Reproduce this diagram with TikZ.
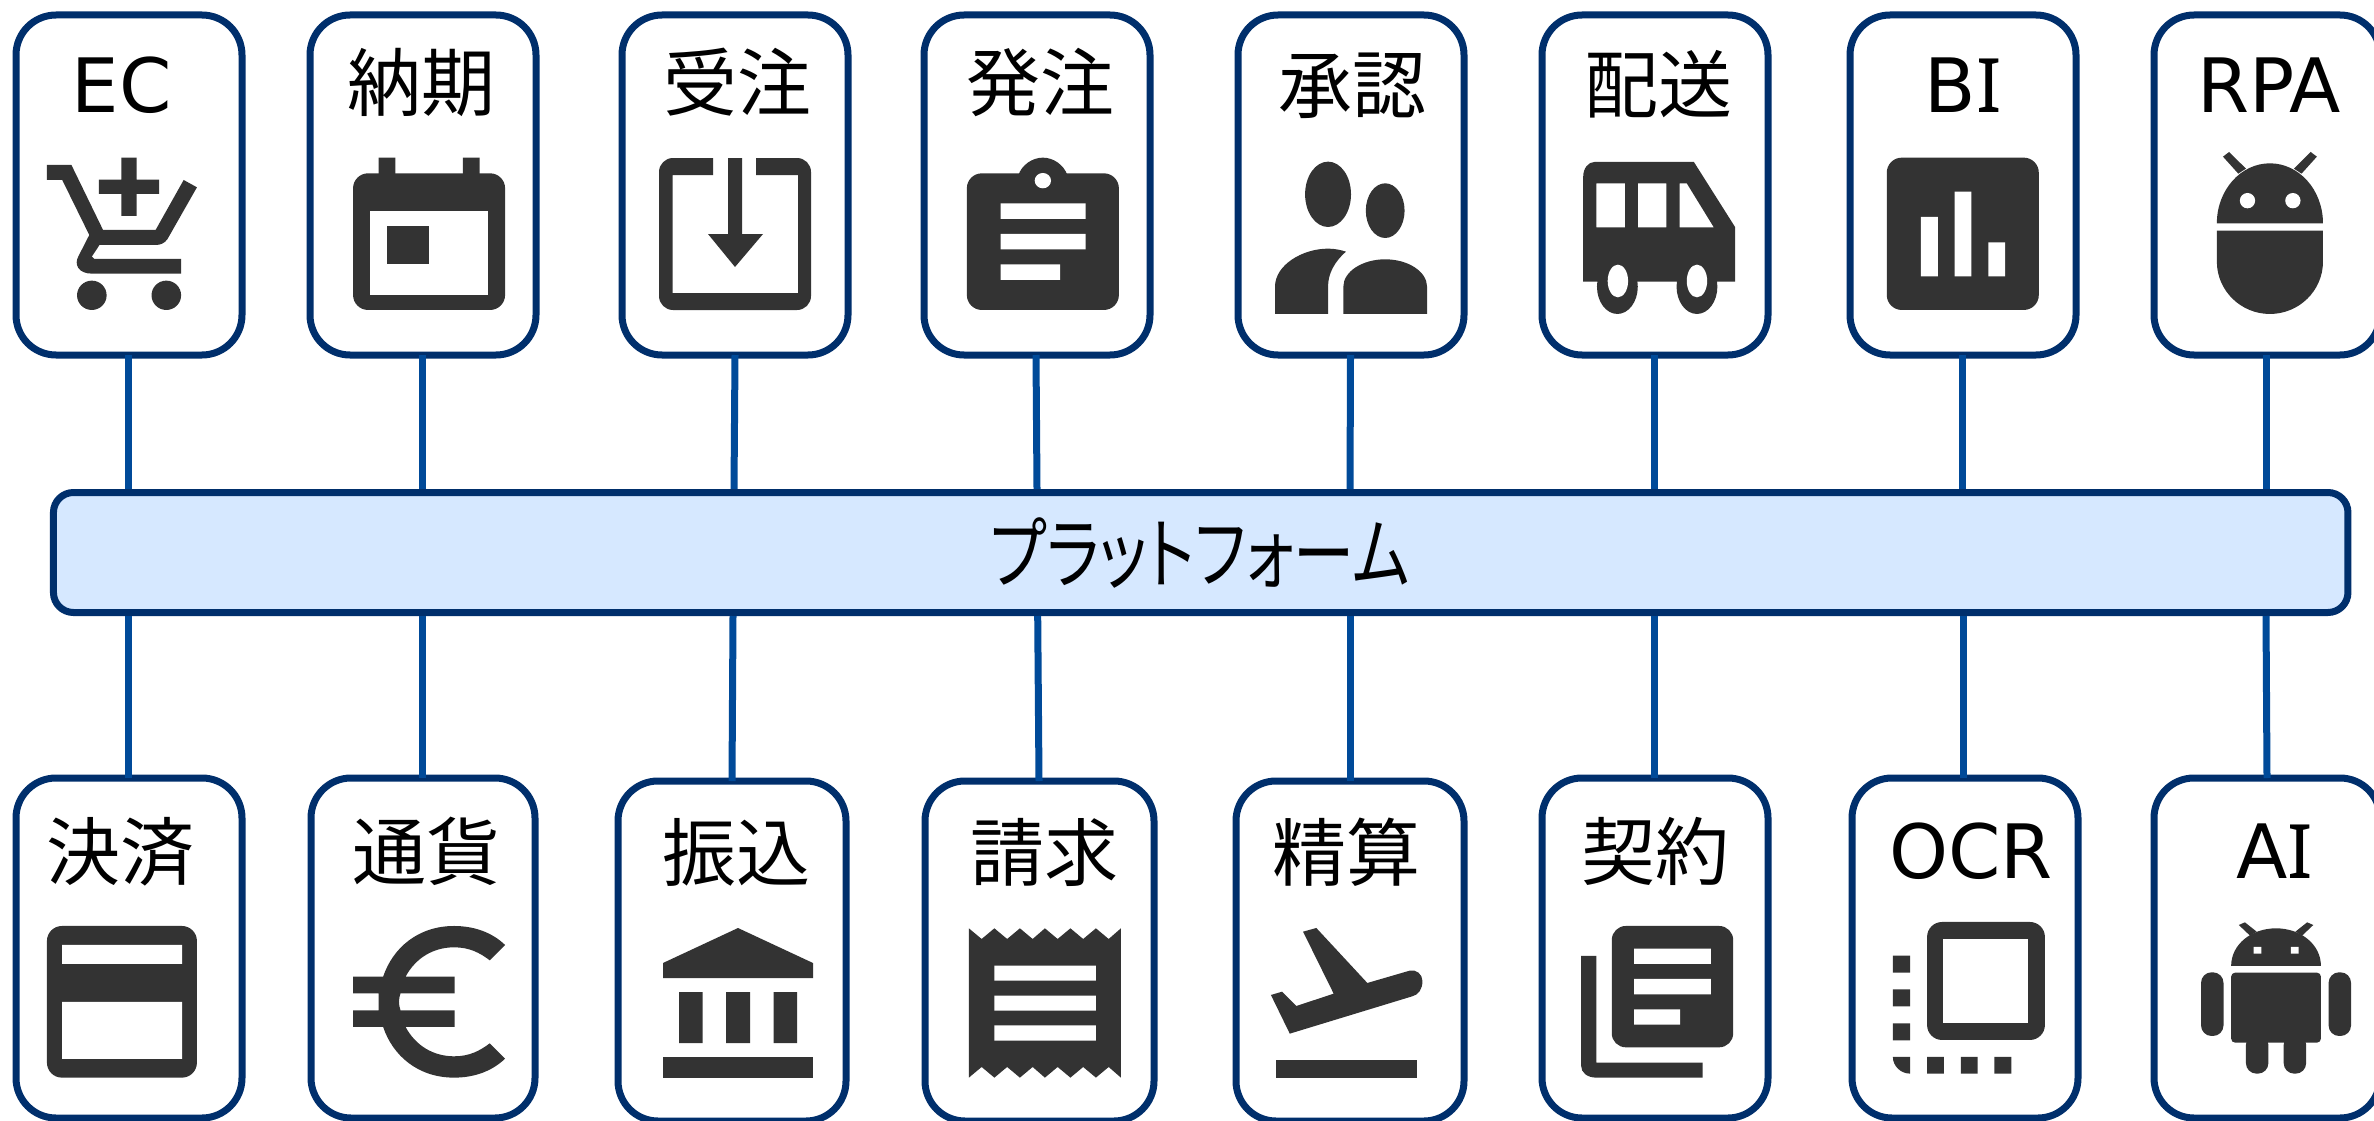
\documentclass[tikz,border=0pt]{standalone}
\usepackage{fontspec}
\usepackage{graphicx}
\setmainfont{DejaVu Sans}
\newfontfamily\cjk[RawFeature=+palt]{Noto Sans CJK JP}
\newfontfamily\cjkfull{Noto Sans CJK JP}
\newfontfamily\serifI{Noto Sans}
\definecolor{edgeblue}{HTML}{002F6C}
\definecolor{linkblue}{HTML}{004A99}
\definecolor{paleblue}{HTML}{D6E8FF}
\definecolor{icon}{HTML}{333333}
\tikzset{
  cardbox/.style={draw=edgeblue,fill=white,line width=7pt,rounded corners=40pt,inner sep=0pt,outer sep=0pt,minimum height=340pt},
  platbox/.style={draw=edgeblue,fill=paleblue,line width=7pt,rounded corners=20pt,inner sep=0pt,minimum width=2294.5pt,minimum height=120pt},
  conn/.style={draw=linkblue,line width=7pt},
  cjklab/.style={anchor=base,inner sep=0pt,font=\cjkfull\fontsize{74}{74}\selectfont},
  latlab/.style={anchor=base,inner sep=0pt,font=\fontsize{75}{75}\selectfont},
  ic/.style={fill=icon,even odd rule},
  hole/.style={fill=white},
  Za/.style={x=0.5102pt,y=-0.3333pt},
  Zb/.style={x=0.5102pt,y=-0.3333pt,shift={(800pt,0pt)}},
  Zc/.style={x=0.5102pt,y=-0.3333pt,shift={(1574pt,0pt)}},
  Zd/.style={x=0.5102pt,y=-0.3333pt,shift={(0pt,-741pt)}},
  Ze/.style={x=0.5102pt,y=-0.3333pt,shift={(800pt,-741pt)}},
  Zf/.style={x=0.5102pt,y=-0.3333pt,shift={(1574pt,-741pt)}},
}
\newcommand{\ibar}{{\serifI I}}
\begin{document}
\begin{tikzpicture}[x=1pt,y=-1pt]
\clip (0,0) rectangle (2374,1121);
\useasboundingbox (0,0) rectangle (2374,1121);
\fill[white] (0,0) rectangle (2374,1121);
% boxes, top row
\node[cardbox,minimum width=226pt] (t1) at (129,185) {};
\node[cardbox,minimum width=226pt] (t2) at (423,185) {};
\node[cardbox,minimum width=226pt] (t3) at (735,185) {};
\node[cardbox,minimum width=226pt] (t4) at (1037,185) {};
\node[cardbox,minimum width=226pt] (t5) at (1351,185) {};
\node[cardbox,minimum width=226pt] (t6) at (1655,185) {};
\node[cardbox,minimum width=226pt] (t7) at (1963,185) {};
\node[cardbox,minimum width=226pt] (t8) at (2267,185) {};
% boxes, bottom row
\node[cardbox,minimum width=226pt] (b1) at (129,948) {};
\node[cardbox,minimum width=224pt] (b2) at (423,948) {};
\node[cardbox,minimum width=228pt] (b3) at (732,951) {};
\node[cardbox,minimum width=229pt] (b4) at (1039.5,951) {};
\node[cardbox,minimum width=228pt] (b5) at (1350,951) {};
\node[cardbox,minimum width=226pt] (b6) at (1655,948) {};
\node[cardbox,minimum width=226pt] (b7) at (1965,948) {};
\node[cardbox,minimum width=226pt] (b8) at (2267,948) {};
% platform
\node[platbox] (plat) at (1200.7,552.5) {};
\node[anchor=base,inner sep=0pt,font=\cjk\fontsize{78}{78}\selectfont] (plabel) at (1200,582) {\scalebox{.784}[1]{プラットフォーム}};
% connectors
\foreach \n/\a/\b in {t1/128/128,t2/422/422,t3/735/734,t4/1036/1037,t5/1350.5/1350,t6/1654/1654,t7/1962/1962,t8/2266/2266}{
  \coordinate (p) at (\a,0); \coordinate (q) at (\b,0);
  \draw[conn] (\n.south -| p) -- (plat.north -| q);
}
\foreach \n/\a/\b in {b1/128/128,b2/422/422,b3/732/733,b4/1039/1037.7,b5/1350/1350,b6/1654/1654,b7/1963/1963,b8/2267/2266}{
  \coordinate (p) at (\a,0); \coordinate (q) at (\b,0);
  \draw[conn] (\n.north -| p) -- (plat.south -| q);
}
% labels
\node[latlab] (l1) at (121.5,113) {EC};
\node[cjklab] (l2) at (421.5,111) {納期};
\node[cjklab] (l3) at (737,111) {受注};
\node[cjklab] (l4) at (1040,111) {発注};
\node[cjklab] (l5) at (1352,113) {承認};
\node[cjklab] (l6) at (1658,113) {配送};
\node[latlab] (l7) at (1963,113) {B\ibar};
\node[latlab] (l8) at (2269,113) {RPA};
\node[cjklab] (l9) at (120,879) {決済};
\node[cjklab] (l10) at (426,879) {通貨};
\node[cjklab] (l11) at (736,880) {振込};
\node[cjklab] (l12) at (1044,880) {請求};
\node[cjklab] (l13) at (1346,880) {精算};
\node[cjklab] (l14) at (1655,879) {契約};
\node[latlab] (l15) at (1971,878) {OCR};
\node[latlab] (l16) at (2275,878) {A\ibar};
% ---- icons ----
\begin{scope}[Za]
 % cart
 \fill[ic] (92,495) -- (140,495) -- (202,690) -- (305,690) -- (360,540) -- (386,562) -- (328,718) .. controls (322,730) and (315,735) .. (305,735) -- (195,735) -- (180,770) -- (185,777) -- (355,777) -- (355,821) -- (180,821) .. controls (155,821) and (143,795) .. (155,765) -- (175,705) -- (122,540) -- (92,540) -- cycle;
 \fill[ic] (180,886) ellipse [x radius=29,y radius=44];
 \fill[ic] (326,886) ellipse [x radius=29,y radius=44];
 \fill[ic] (238,473) -- (268,473) -- (268,539) -- (312,539) -- (312,582) -- (268,582) -- (268,648) -- (238,648) -- (238,582) -- (194,582) -- (194,539) -- (238,539) -- cycle;
 % calendar
 \fill[icon,rounded corners=15pt] (692,520) rectangle (990,930);
 \fill[icon] (742,473) rectangle (775,525) (907,473) rectangle (940,525);
 \fill[hole] (725,633) rectangle (956,885);
 \fill[icon] (758,679) rectangle (841,793);
\end{scope}
\begin{scope}
 % inbox download
 \fill[icon] (713,158) [rounded corners=14pt] -- (659,158) -- (659,310) -- (811,310) -- (811,158) [sharp corners] -- (756,158) -- (756,175) -- (798,175) -- (798,293) -- (672.5,293) -- (672.5,175) -- (713,175) -- cycle;
 \fill[icon] (728,158) -- (742,158) -- (742,234) -- (763,234) -- (735,267) -- (708,234) -- (728,234) -- cycle;
\end{scope}
\begin{scope}[Zb]
 % clipboard
 \fill[icon,rounded corners=15pt] (327,520) rectangle (625,930);
 \fill[icon] (428,525) .. controls (435,495) and (455,473) .. (476,473) .. controls (497,473) and (517,495) .. (524,525) -- cycle;
 \fill[hole] (476,542) ellipse [x radius=16,y radius=23];
 \fill[hole] (393,610) rectangle (560,657) (393,702) rectangle (560,748) (393,793) rectangle (510,840);
 % people
 \fill[icon] (1035,583) ellipse [x radius=45,y radius=98];
 \fill[icon] (1147,632) ellipse [x radius=38,y radius=82];
 \fill[icon] (931,942) -- (931,860) .. controls (931,795) and (985,746) .. (1035,746) .. controls (1048,746) and (1060,750) .. (1070,755) .. controls (1048,785) and (1035,820) .. (1035,860) -- (1035,942) -- cycle;
 \fill[icon] (1065,942) -- (1065,860) .. controls (1065,815) and (1102,778) .. (1147,778) .. controls (1192,778) and (1229,815) .. (1229,860) -- (1229,942) -- cycle;
\end{scope}
\begin{scope}[Zc]
 % bus
 \fill[icon] (85,860) ellipse [x radius=40,y radius=82];
 \fill[icon] (241,860) ellipse [x radius=40,y radius=82];
 \fill[ic] (18,845) -- (18,530) .. controls (18,505) and (28,486) .. (40,486) -- (235,486) -- (316,682) -- (316,845) -- cycle
   (44,550) rectangle (100,682) (125,550) rectangle (181,682)
   (207,550) -- (221,550) -- (274,682) -- (207,682) -- cycle;
 \fill[hole] (86,843) ellipse [x radius=20,y radius=49];
 \fill[hole] (241,843) ellipse [x radius=20,y radius=49];
 % chart
 \fill[icon,rounded corners=15pt] (613,473) rectangle (911,930);
 \fill[hole] (680,651) rectangle (713,829) (746,575) rectangle (779,829) (812,727) rectangle (845,829);
 % robot head
 \fill[icon] (1272,470) -- (1284,456) -- (1317,506) -- (1302,521) -- cycle;
 \fill[icon] (1456,470) -- (1444,456) -- (1411,506) -- (1426,521) -- cycle;
 \fill[icon] (1260,670) .. controls (1260,570) and (1307,490) .. (1364,490) .. controls (1421,490) and (1468,570) .. (1468,670) -- cycle;
 \fill[hole] (1320,602) ellipse [x radius=15,y radius=23];
 \fill[hole] (1409,602) ellipse [x radius=15,y radius=23];
 \fill[icon] (1260,692) -- (1468,692) -- (1468,785) .. controls (1468,872) and (1421,942) .. (1364,942) .. controls (1307,942) and (1260,872) .. (1260,785) -- cycle;
\end{scope}
\begin{scope}[Zd]
 % card
 \fill[ic,rounded corners=15pt] (92,555) rectangle (386,1010);
 \fill[hole] (122,612) rectangle (357,669) (122,783) rectangle (357,954);
 % euro
 \fill[icon] (990,612) .. controls (965,575) and (930,555) .. (890,555) .. controls (820,555) and (770,620) .. (751,707) -- (692,707) -- (692,757) -- (742,757) -- (742,808) -- (692,808) -- (692,858) -- (751,858) .. controls (770,945) and (820,1010) .. (890,1010) .. controls (930,1010) and (965,990) .. (990,953) -- (960,907) .. controls (940,930) and (920,946) .. (890,946) .. controls (850,946) and (815,915) .. (795,858) -- (891,858) -- (891,808) -- (785,808) .. controls (781,790) and (781,775) .. (785,757) -- (891,757) -- (891,707) -- (795,707) .. controls (815,650) and (850,619) .. (890,619) .. controls (920,619) and (940,635) .. (960,658) -- cycle;
\end{scope}
\begin{scope}
 % bank
 \fill[icon] (663,963) -- (738,928) -- (813,963) -- (813,978) -- (663,978) -- cycle;
 \fill[icon] (679,992) rectangle (702.6,1043) (726,992) rectangle (750,1043) (773.5,992) rectangle (797,1043);
 \fill[icon] (663,1057) rectangle (813,1078);
\end{scope}
\begin{scope}[Ze]
 % receipt
 \fill[icon] (331,562) -- (356,594) -- (381,562) -- (406,594) -- (431,562) -- (456,594) -- (480,562) -- (505,594) -- (530,562) -- (555,594) -- (580,562) -- (605,594) -- (629,562)
   -- (629,1010) -- (605,978) -- (580,1010) -- (555,978) -- (530,1010) -- (505,978) -- (480,1010) -- (456,978) -- (431,1010) -- (406,978) -- (381,1010) -- (356,978) -- (331,1010) -- cycle;
 \fill[hole] (381,674) rectangle (580,719) (381,764) rectangle (580,809) (381,853) rectangle (580,899);
 % plane
 \fill[icon] (923,762) -- (945,752) -- (973,795) -- (1046,758) -- (986,572) -- (1012,561) -- (1112,726) -- (1195,689) .. controls (1208,684) and (1220,700) .. (1220,720) .. controls (1220,745) and (1212,762) .. (1200,766) -- (960,878) -- cycle;
 \fill[icon] (932,958) rectangle (1210,1010);
\end{scope}
\begin{scope}[Zf]
 % news
 \fill[icon] (14,645) -- (44,645) -- (44,965) -- (252,965) -- (252,1010) -- (44,1010) .. controls (26,1010) and (14,995) .. (14,975) -- cycle;
 \fill[icon,rounded corners=14pt] (74,555) rectangle (312,919);
 \fill[hole] (118,623) rectangle (268,669) (118,714) rectangle (268,760) (118,805) rectangle (208,851);
 % ocr
 \fill[ic,rounded corners=15pt] (692,543) rectangle (923,897);
 \fill[hole] (724,594) rectangle (890,847);
 \fill[icon] (625,644) rectangle (659,695) (625,745) rectangle (659,796) (625,847) rectangle (659,898);
 \fill[icon] (625,948) -- (659,948) -- (659,998) .. controls (640,998) and (625,975) .. (625,948) -- cycle;
 \fill[icon] (692,948) rectangle (725,998) (758,948) rectangle (791,998) (824,948) rectangle (857,998);
 % android
 \fill[icon] (1303,552) -- (1315,544) -- (1338,572) -- (1325,584) -- cycle;
 \fill[icon] (1449,552) -- (1437,544) -- (1414,572) -- (1427,584) -- cycle;
 \fill[icon] (1288,675) .. controls (1288,610) and (1328,562) .. (1376,562) .. controls (1424,562) and (1464,610) .. (1464,675) -- cycle;
 \fill[hole] (1332,618) rectangle (1347,638) (1405,618) rectangle (1420,638);
 \fill[icon,rounded corners=4pt] (1288,695) -- (1464,695) -- (1464,905) -- (1288,905) -- cycle;
 \fill[icon,rounded corners=10.5pt] (1229,694) rectangle (1273,885);
 \fill[icon,rounded corners=10.5pt] (1479,694) rectangle (1523,885);
 \fill[icon,rounded corners=10.5pt] (1317,880) rectangle (1361,998);
 \fill[icon,rounded corners=10.5pt] (1391,880) rectangle (1435,998);
\end{scope}
\end{tikzpicture}
\end{document}
